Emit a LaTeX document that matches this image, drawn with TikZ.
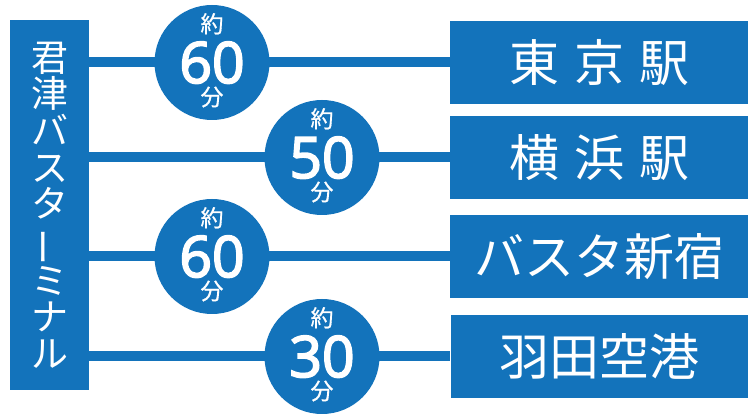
\documentclass[tikz,border=0pt]{standalone}
\usepackage{fontspec}
\usepackage{graphicx}
\setmainfont{Noto Sans CJK JP}
\newfontfamily\numfont[FakeBold=3]{Open Sans}
\newfontfamily\jpsmall[FakeBold=0.6]{Noto Sans CJK JP}
\definecolor{kblue}{RGB}{19,115,187}
\begin{document}
\begin{tikzpicture}[x=1pt,y=-1pt,
  box/.style={fill=kblue,inner sep=0pt,text=white},
  dest/.style={box,minimum width=298pt,minimum height=83pt,font=\fontsize{50}{50}\selectfont},
  timecirc/.style={circle,fill=kblue,minimum size=115pt,inner sep=0pt},
  small/.style={text=white,inner sep=0pt,text height=18pt,text depth=0pt,anchor=base,font=\fontsize{23}{23}\selectfont\jpsmall},
  big/.style={text=white,inner sep=0pt,text height=41pt,text depth=0pt,anchor=base,font=\fontsize{57}{57}\selectfont\numfont},
  conn/.style={draw=kblue,line width=10pt}]
\useasboundingbox (0,0) rectangle (748,414);
\fill[white] (0,0) rectangle (748,414);
% source
\node[box,minimum width=79pt,minimum height=370pt] (src) at (49.5,205) {};
\node[text=white,align=center,inner sep=0pt,font=\fontsize{37}{36.7}\selectfont] (srctext) at (49.5,205)
  {君\\津\\バ\\ス\\タ\\\rotatebox[origin=c]{90}{ー}\\ミ\\ナ\\ル};
% destinations
\node[dest] (d1) at (599,62.5) {東\hspace{15pt}京\hspace{15pt}駅};
\node[dest] (d2) at (599,157.5) {横\hspace{15pt}浜\hspace{15pt}駅};
\node[dest] (d3) at (599,256.5) {バスタ新宿};
\node[dest] (d4) at (599.5,356.5) {羽田空港};
% connectors
\draw[conn] (src.east |- d1.west) -- (d1.west);
\draw[conn] (src.east |- d2.west) -- (d2.west);
\draw[conn] (src.east |- d3.west) -- (d3.west);
\draw[conn] (src.east |- d4.west) -- (d4.west);
% circles
\foreach \n/\x/\y/\t in {1/212/62.5/60, 2/322/157.5/50, 3/212/256.5/60, 4/322/356.5/30}{
  \node[timecirc] (c\n) at (\x,\y) {};
  \node[small] (ya\n) at ([yshift=30pt]c\n.center) {約};
  \node[big] (num\n) at ([yshift=-20.5pt]c\n.center) {\t};
  \node[small] (fun\n) at ([yshift=-43pt]c\n.center) {分};
}
\end{tikzpicture}
\end{document}
